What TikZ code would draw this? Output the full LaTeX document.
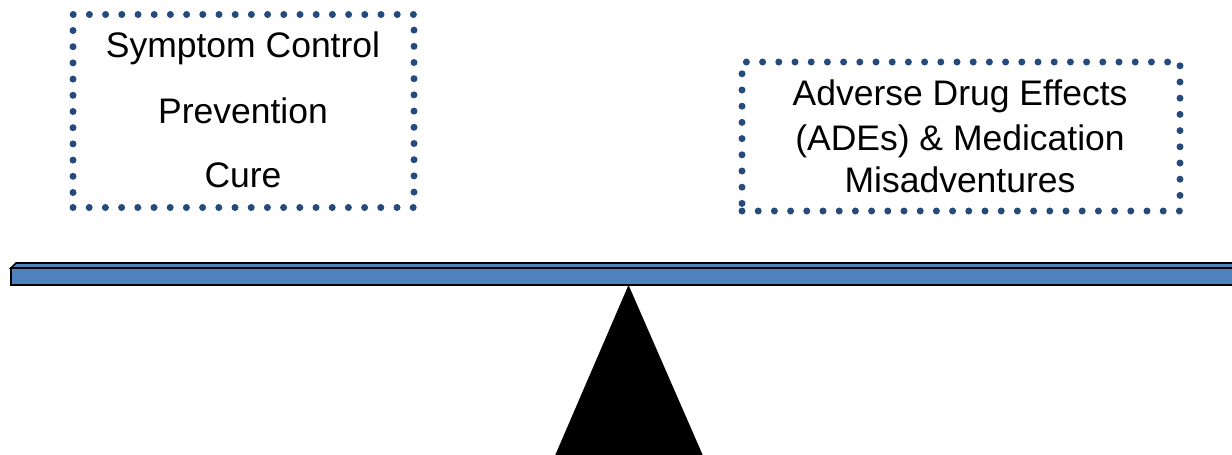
\documentclass[tikz,border=0pt]{standalone}
\usepackage{fontspec}
\setmainfont{Liberation Sans}
\definecolor{dotblue}{HTML}{244A7E}
\definecolor{beamblue}{HTML}{4F81BD}
\begin{document}
\begin{tikzpicture}[x=1pt,y=-1pt,
  dotbox/.style={draw=dotblue, line width=7pt, line cap=round, dash pattern=on 0pt off 16.2pt, inner sep=0pt},
  lbl/.style={font=\fontsize{35.5}{42}\selectfont, anchor=base, inner sep=0pt},
  beam/.style={fill=beamblue, draw=black, line width=1.6pt, line join=miter}]
\useasboundingbox (0,0) rectangle (1232,455);
% boxes
\node[dotbox, minimum width=341pt, minimum height=193pt] (benefit) at (243.5,111) {};
\node[dotbox, minimum width=438pt, minimum height=149pt] (risk) at (961,136.5) {};
% texts
\node[lbl] (t1) at (243,57) {Symptom Control};
\node[lbl] (t2) at (243,123) {Prevention};
\node[lbl] (t3) at (243,187) {Cure};
\node[lbl] (r1) at (960,105) {Adverse Drug Effects};
\node[lbl] (r2) at (960,150) {(ADEs) \& Medication};
\node[lbl] (r3) at (960,192) {Misadventures};
% beam
\draw[beam] (11,268) -- (16,263) -- (1245,263) -- (1245,268) -- cycle;
\draw[beam] (11,268) rectangle (1245,285);
% fulcrum
\coordinate (apex) at (628.5,285);
\fill[black] (apex) -- (554,458) -- (704,458) -- cycle;
\end{tikzpicture}
\end{document}
